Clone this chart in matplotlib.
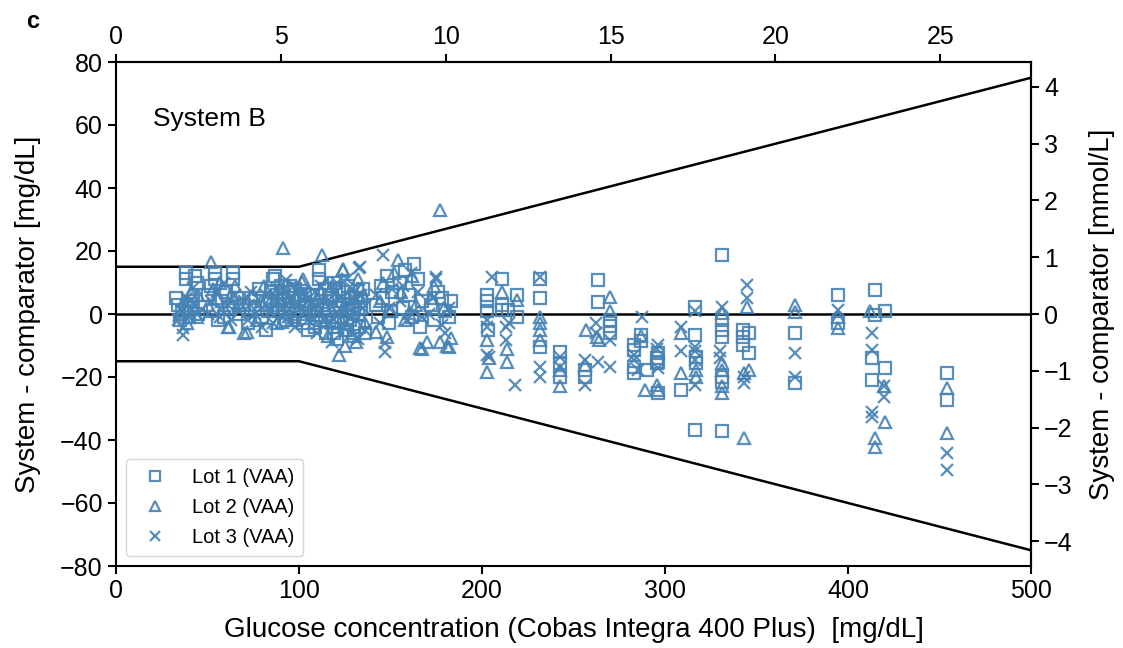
import matplotlib.pyplot as plt
import numpy as np

plt.rcParams['font.family'] = ['Liberation Sans', 'DejaVu Sans']

# Glucose (mg/dL) and difference system - comparator (mg/dL), per lot
lot1_x = [33, 34, 36, 38, 38, 40, 41, 43, 44, 45, 35, 42,
          50, 52, 54, 54, 56, 58, 60, 62, 64, 64, 66, 67, 53, 59,
          70, 72, 74, 76, 78, 80, 82, 84, 86, 87, 88, 89, 90, 92, 93, 94, 96, 97, 98, 100, 102, 104, 105, 106,
          85, 88, 91, 95, 99, 101, 103,
          108, 109, 110, 111, 111, 112, 113, 114, 115, 116, 117, 118, 119, 120, 121, 122, 123, 124, 125, 126,
          127, 128, 129, 130, 131, 132, 133, 134, 135, 136,
          110, 114, 118, 122, 126, 130, 134, 119, 127,
          142, 143, 145, 146, 148, 149, 150, 151,
          155, 157, 158, 160, 162, 163, 165, 166, 167,
          172, 174, 176, 178, 180, 182, 183,
          202.5, 202.5, 203.5, 203, 210.7, 210.7, 210.7, 214, 219, 219,
          231.6, 231.6, 231.6, 242.6, 242.6, 242.6, 256.3, 256.3,
          263.4, 263.4, 269.8, 269.8, 269.8,
          287, 287, 283, 283, 283, 283, 290,
          296, 296, 296, 295.5, 295.5,
          309, 316.5, 316.5, 317, 317, 316.5,
          331, 331, 331, 331, 331, 331, 331,
          342.5, 342.5, 342.5, 346, 346,
          371, 371, 394.5, 394.5,
          415, 415, 420, 413, 420, 413,
          454, 454]
lot1_y = [5, 3, 1, 13, 11, -1, 2, 12, 10, 0, -2, 4,
          6, 9, 13, 11, -2, 4, 7, 2, 13, 11, 5, 0, 1, -1,
          3, -3, 5, 2, 8, -1, -5, 4, 11, 12, 6, 1, 9, 3, -2, 7, 5, 0, 8, 4, -3, 2, -5, 6,
          7, 3, 5, 9, 1, 6, 3,
          1, -4, 6, 14, 11, -2, 3, 8, -6, 0, 5, -3, 10, 2, -8, 4, -1, 7, -5, 1,
          9, -2, 3, -7, 5, 0, -4, 2, 8, -6,
          3, -1, 6, 8, -3, 2, 4, -6, 5,
          3, -1, 9, 5, 12, -3, 1, 7,
          10, 2, 14, 6, -1, 16, 11, -4, 4,
          3, -2, 7, 5, 1, -1, 4,
          6, 4, -5, 1, 11, 3, 1.3, 1.3, 6, -0.8,
          11, 5, -10.4, -12, -15.7, -19.9, -17.8, -19.9,
          10.8, 3.9, -1.8, -3.9, -6.1,
          -6.6, -8.7, -9.7, -11.4, -16.7, -18.8, -17.8,
          -12.5, -15.2, -25.2, -14, -15.6,
          -24.1, -6.6, 2.3, -13.6, -15.7, -36.8,
          18.7, -1.9, -5.1, -7.2, -19.9, -21.5, -37.3,
          -5.1, -7.2, -9.9, -6.1, -12.5,
          -6.1, -22, 6, -2.9,
          7.6, -0.3, 0.8, -14, -17.2, -20.9,
          -18.8, -27.3]

lot2_x = [35, 37, 39, 41, 43, 44, 45,
          51.9, 50, 53, 55, 57, 59, 61, 62, 63, 65, 67,
          70, 71.4, 73, 75, 77, 79, 81, 83, 85, 88, 90.5, 91.4, 92, 95, 97, 99, 101.5, 102, 104, 106,
          86, 89, 94, 98, 103,
          108, 110, 112.4, 114, 116, 118, 120, 122, 123, 124, 124.2, 126, 128, 130, 131, 133, 134, 136, 125,
          111, 115, 119, 121, 127, 129, 132, 135,
          142, 144, 146, 148, 150, 152,
          154, 156, 158, 160, 162, 164, 166, 167,
          170, 172, 174, 177, 177, 179, 181, 183, 182,
          203, 204, 202.5, 210.7, 219, 213.5, 213.5,
          231.6, 231.6, 231.6, 231.6, 242.6, 242.6,
          256.3, 257, 263, 264, 269.8, 269.8,
          287, 289, 296, 295.5, 309, 309, 317, 317,
          331, 331, 331, 331, 331, 345, 343, 346, 343,
          371, 371, 394.5, 394.5, 412, 419.5, 420, 415, 415,
          454, 454]
lot2_y = [0, 4, -3, 7, 2, -1, 6,
          16.6, 3, 8, 5, 10, 2, -4, -4, 6, 9, 3,
          -6, -5.6, 2, 6, -2, 4, 9, 1, 5, -3, -2.4, 20.8, 7, 3, -1, 6, 10.3, 11, 0, 4,
          2, 8, 4, -2, 6,
          -3, 5, 18.7, 2, -7, 9, -1, -13, 4, 14, 14.3, -5, 7, 0, -9, 5, 8, -3, -10,
          1, 10, 3, -4, 2, -6, 11, 6,
          -5.6, 4, 10, -7.2, 1, 13,
          17.1, 7, -2, 0.2, 12, 3, -10.9, -11,
          -8.8, 5, 9, 33, -9, 2, -10, -7.7, -10.4,
          -8.3, -14, -18.3, 7.1, 4.4, -11, -15.1,
          -0.8, -2.9, -5, -8.3, -17.8, -23,
          -16.2, -5, -7.2, -8.3, 5.5, 0.8,
          -7, -24, -24, -22.5, -6.1, -18.8, -17.8, -19.9,
          0.2, -15.7, -17.8, -23, -25.2, 2.3, -18.8, -17.8, -39.4,
          2.8, 0.7, -0.8, -4.5, 0.8, -23, -34.2, -39.5, -42.1,
          -23.6, -37.9]

lot3_x = [34, 36, 36.8, 36.8, 38, 40, 42, 42, 44, 39,
          50, 52, 55, 57, 59, 61, 63, 65, 67,
          70, 72, 74, 76, 78, 80, 82, 84, 86, 88, 90, 93, 94, 96, 98, 100, 103, 105,
          87, 91, 97, 101, 104,
          108, 110, 112, 114, 116, 118, 120, 122, 124, 126, 128, 130, 132, 133.3, 133, 135, 136,
          109, 113, 117, 121, 125, 129, 131, 134,
          142, 144, 146, 147, 147, 149, 151,
          155, 157, 159, 161, 163, 165, 167,
          171, 173, 175, 175, 178, 180, 182,
          205.3, 203, 203, 203, 204, 213, 213, 215, 218,
          231.6, 231.6, 231.6, 242.6, 242.6,
          256.3, 256.3, 262.5, 262.5, 263.4, 269.8, 269.8,
          287.3, 283, 283, 285, 296, 296, 295.5,
          309, 309, 316.5, 316.5, 316.5, 316.5, 316.5,
          331, 330, 330, 345, 345, 343, 343,
          371, 371, 394.5, 413, 413, 419.5, 419.5, 413, 413,
          454, 454]
lot3_y = [-2, 1, -4.6, -6.7, 3, -1, 8.1, 3.4, 0, 5,
          0, 4, 7, -1, 10, 3, -2, 6, 1,
          4, -2, 7, 0, 3, -4, 6, 1, -3, 8, 2, 10.8, -1, 5, -4, 3, 7, -2,
          5, -1, 9, 2, 6,
          2, -6, 9, -2, 4, -9, 7, 0, -4, 11, -1, 5, -8, 15, 14.6, 2, -5,
          7, 4, -3, 10, 3, 8, -2, 6,
          6, -3, 18.7, -9.3, -12, 2, 8,
          4, 9, -2, 13, 1, 7, -1,
          0, 5, 11.2, 11.7, -3.5, -6.1, 2,
          11.8, -2, -4, -13, -13.5, -8.3, -4, -3, -22.5,
          11.6, -16.7, -19.9, -13.6, -16.7,
          -14.7, -22.5, -2.9, -6.1, -15.2, -8.3, -16.7,
          -0.8, -13, -14.5, -17.8, -9.8, -17.3, -11,
          -4, -11.9, 0.8, -10.4, -11.9, -14.7, -22.5,
          2.3, -11.9, -14, 9.2, 5, -19.9, -22,
          -12.5, -19.9, 1.3, -6.1, -11.4, -23, -26.2, -31, -32.6,
          -44.2, -49.5]

# Acceptance limits: +/-15 mg/dL below 100 mg/dL, +/-15 % above
limit_x = [0, 100, 500]
limit_y = [15, 15, 75]

MGDL_PER_MMOL = 18.016
blue = '#4682B4'

fig = plt.figure(figsize=(11.23, 6.48), dpi=100)
ax = fig.add_axes([116 / 1123, 1 - 566 / 648, 915 / 1123, 504 / 648])

ax.plot(limit_x, limit_y, color='black', lw=1.8)
ax.plot(limit_x, [-v for v in limit_y], color='black', lw=1.8)
ax.axhline(0, color='black', lw=1.8)

mk = dict(linestyle='none', markerfacecolor='none', markeredgecolor=blue,
          markersize=8.5, markeredgewidth=1.6, alpha=0.9)
ax.plot(lot1_x, lot1_y, marker='s', label='Lot 1 (VAA)', **mk)
ax.plot(lot2_x, lot2_y, marker='^', label='Lot 2 (VAA)', **mk)
ax.plot(lot3_x, lot3_y, marker='x', label='Lot 3 (VAA)', color=blue, **mk)

ax.set_xlim(0, 500)
ax.set_ylim(-80, 80)
ax.set_yticks(np.arange(-80, 81, 20))
ax.set_xticks(np.arange(0, 501, 100))
ax.set_xlabel('Glucose concentration (Cobas Integra 400 Plus)  [mg/dL]', fontsize=20, labelpad=10)
ax.set_ylabel('System - comparator [mg/dL]', fontsize=20, labelpad=14)

top = ax.secondary_xaxis('top', functions=(lambda v: v / MGDL_PER_MMOL, lambda v: v * MGDL_PER_MMOL))
top.set_xticks(np.arange(0, 26, 5))
right = ax.secondary_yaxis('right', functions=(lambda v: v / MGDL_PER_MMOL, lambda v: v * MGDL_PER_MMOL))
right.set_yticks(np.arange(-4, 5, 1))
right.set_ylabel('System - comparator [mmol/L]', fontsize=20, labelpad=12)

for a in (ax, top, right):
    a.tick_params(labelsize=18, width=1.5, length=6)
for s in ax.spines.values():
    s.set_linewidth(1.5)
top.spines['top'].set_linewidth(1.5)
right.spines['right'].set_linewidth(1.5)

ax.text(20, 62, 'System B', fontsize=19, va='center')
fig.text(26 / 1123, 1 - 22 / 648, 'c', fontsize=17, fontweight='bold', va='center')

ax.legend(loc='lower left', fontsize=14.5, frameon=True, borderpad=0.45,
          handletextpad=0.8, labelspacing=0.55, markerscale=0.85,
          bbox_to_anchor=(0.0, 0.0), borderaxespad=0.5)

plt.savefig('out.png', dpi=100)
